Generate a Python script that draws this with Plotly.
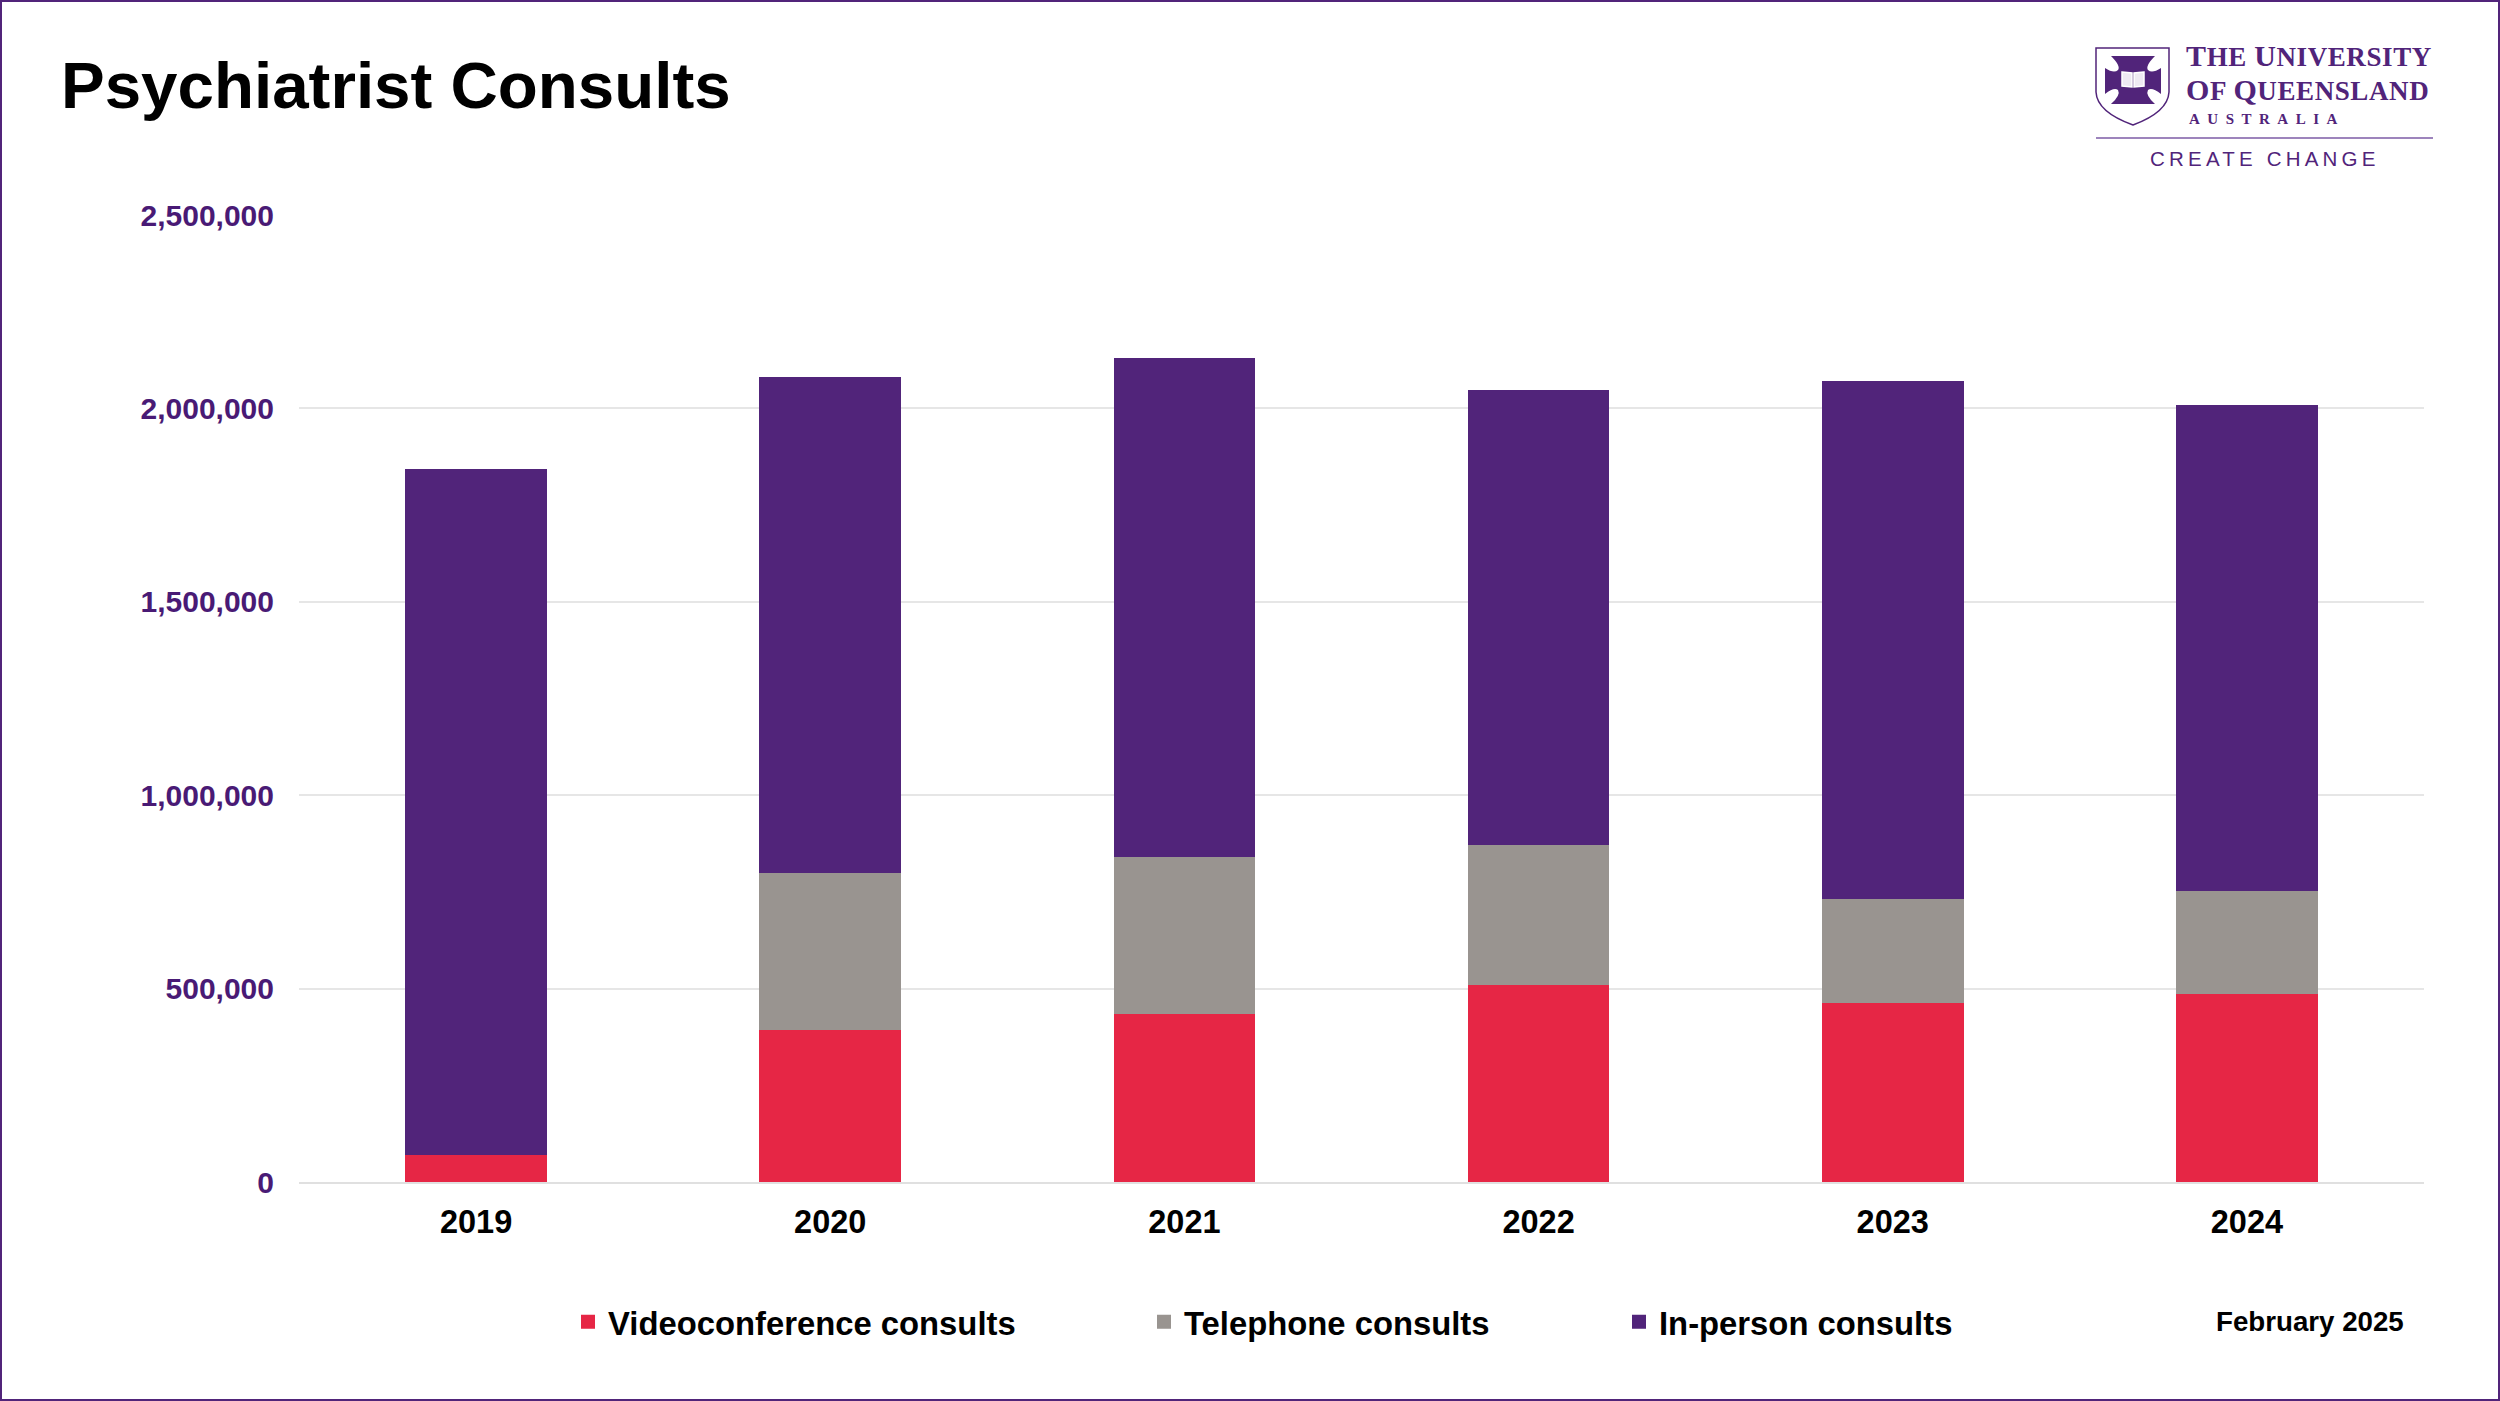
import plotly.graph_objects as go

years = ["2019", "2020", "2021", "2022", "2023", "2024"]
video = [73000, 396000, 438000, 513000, 465000, 489000]
telephone = [0, 406000, 405000, 361000, 270000, 265000]
in_person = [1767000, 1276000, 1286000, 1170000, 1332000, 1251000]

y_ticks = [0, 500000, 1000000, 1500000, 2000000, 2500000]
series_names = ["Videoconference consults", "Telephone consults", "In-person consults"]
title_text = "Psychiatrist Consults"
date_text = "February 2025"

W, H = 2500, 1401
PURPLE = "#51247A"
RED = "#E62645"
GREY = "#999490"
SANS = "Liberation Sans"
SERIF = "Liberation Serif"


def px(x):
    return x / W


def py(y):
    return 1 - y / H


def path(cmds):
    out = []
    for c in cmds:
        if isinstance(c, str):
            out.append(c)
        else:
            out.append(f"{px(c[0]):.5f},{py(c[1]):.5f}")
    return " ".join(out)


fig = go.Figure()
for i, (name, vals, col) in enumerate(zip(series_names, [video, telephone, in_person], [RED, GREY, PURPLE])):
    fig.add_trace(go.Bar(
        x=years, y=vals, name=name, width=0.394,
        marker=dict(color=col, line=dict(color=col, width=2)),
        legend="legend" if i == 0 else f"legend{i + 1}",
    ))

legend_font = dict(family=SANS, size=32.8, color="#000000", weight="bold")


def legend_at(xpx):
    return dict(x=px(xpx), y=py(1322), xanchor="left", yanchor="middle", font=legend_font,
                bgcolor="rgba(0,0,0,0)", borderwidth=0, itemclick=False, itemdoubleclick=False)


shapes = [
    dict(type="rect", xref="paper", yref="paper", x0=px(1), x1=px(W - 1), y0=py(1), y1=py(H - 1),
         line=dict(color=PURPLE, width=2), layer="above"),
    # crest outline
    dict(type="path", xref="paper", yref="paper", line=dict(color=PURPLE, width=1.5), fillcolor="#ffffff",
         path=path(["M", (2096, 48), "L", (2169, 48), "L", (2169, 92), "Q", (2168, 112), (2133, 125),
                    "Q", (2097, 112), (2096, 92), "Z"])),
    # crest cross
    dict(type="path", xref="paper", yref="paper", line=dict(width=0), fillcolor=PURPLE,
         path=path(["M", (2111, 56), "L", (2155, 56), "Q", (2145, 66), (2148, 70),
                    "Q", (2152, 74), (2161, 68), "L", (2161, 94),
                    "Q", (2152, 87), (2148, 90), "Q", (2145, 95), (2155, 104), "L", (2111, 104),
                    "Q", (2121, 95), (2118, 90), "Q", (2114, 87), (2105, 94), "L", (2105, 68),
                    "Q", (2114, 74), (2118, 70), "Q", (2121, 66), (2111, 56), "Z"])),
    # crest book
    dict(type="path", xref="paper", yref="paper", line=dict(color="#ffffff", width=1.5), fillcolor="rgba(255,255,255,0.9)",
         path=path(["M", (2122, 72), "L", (2132, 73), "L", (2132, 87), "L", (2122, 86), "Z"])),
    dict(type="path", xref="paper", yref="paper", line=dict(color="#ffffff", width=1.5), fillcolor="rgba(255,255,255,0.9)",
         path=path(["M", (2144, 72), "L", (2134, 73), "L", (2134, 87), "L", (2144, 86), "Z"])),
    dict(type="line", xref="paper", yref="paper", x0=px(2096), x1=px(2433), y0=py(138), y1=py(138),
         line=dict(color="#7d5ba6", width=1.5)),
]


def note(text, x, y, size, color="#000000", family=SANS, xanchor="left", weight="normal"):
    return dict(text=text, x=px(x), y=py(y), xref="paper", yref="paper", xanchor=xanchor, yanchor="middle",
                align="left", showarrow=False, borderpad=0, borderwidth=0,
                font=dict(family=family, size=size, color=color, weight=weight))


def smallcaps(big, rest, big_size, small_size):
    return (f'<span style="font-size:{big_size}px;letter-spacing:0.6px">{big}</span>'
            f'<span style="font-size:{small_size}px;letter-spacing:0.6px">{rest}</span>')


uni_line = smallcaps("T", "HE ", 30, 27) + smallcaps("U", "NIVERSITY", 30, 27)
qld_line = smallcaps("O", "F ", 30, 27) + smallcaps("Q", "UEENSLAND", 30, 27)

annotations = [
    note(title_text, 61, 85, 65.5, weight="bold"),
    note(date_text, 2216, 1321, 27.7, weight="bold"),
    note(uni_line + "<br>" + qld_line, 2186, 73, 26.5, PURPLE, SERIF, weight="bold"),
    note('<span style="letter-spacing:7.5px">AUSTRALIA</span>', 2189, 119, 15, PURPLE, SERIF, weight="bold"),
    note('<span style="letter-spacing:4.2px">CREATE CHANGE</span>', 2150, 159, 20.5, PURPLE, SANS),
]

fig.update_layout(
    width=W, height=H, autosize=False,
    margin=dict(l=0, r=0, t=0, b=0, pad=0, autoexpand=False),
    paper_bgcolor="#ffffff", plot_bgcolor="#ffffff",
    barmode="stack", bargap=0.6,
    showlegend=True,
    legend=legend_at(568),
    legend2=legend_at(1144),
    legend3=legend_at(1619),
    shapes=shapes,
    annotations=annotations,
    xaxis=dict(domain=[px(299), px(2424)], type="category", showgrid=False, ticks="",
               tickfont=dict(family=SANS, size=32.5, color="#000000", weight="bold"),
               ticklabelstandoff=10, showline=True, linecolor="#e0e0e0", linewidth=2),
    yaxis=dict(domain=[py(1182), py(215)], range=[0, 2500000], tickvals=y_ticks, tickformat=",d",
               showgrid=True, gridcolor="#e6e6e6", gridwidth=1.5, zeroline=False, ticks="",
               tickfont=dict(family=SANS, size=30, color="#491A75", weight="bold"),
               ticklabelstandoff=24),
    font=dict(family=SANS),
)

fig.write_html("out.html", config={"displayModeBar": False},
               post_script="document.body.style.margin='0';document.body.style.overflow='hidden';")
